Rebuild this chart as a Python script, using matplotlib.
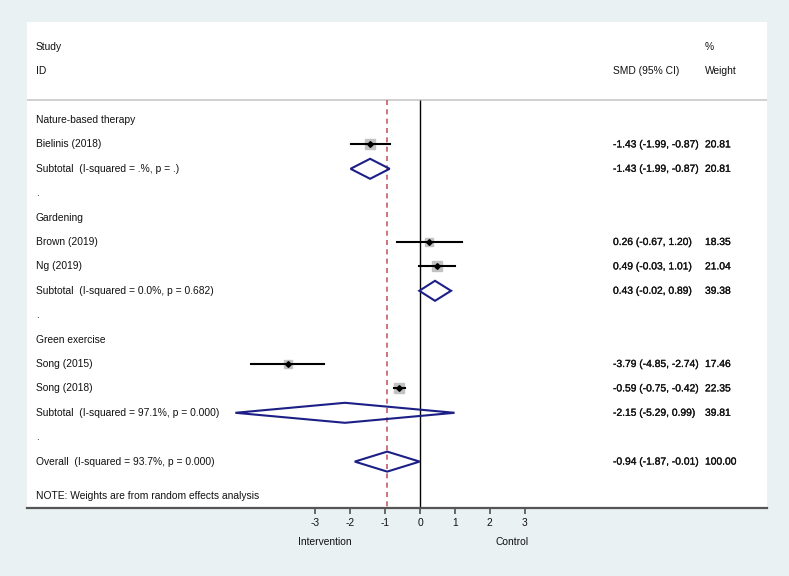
import matplotlib
matplotlib.use("Agg")
import matplotlib.pyplot as plt
from matplotlib.patches import Polygon
import matplotlib.patheffects as pe

plt.rcParams['font.family'] = ['Liberation Sans', 'DejaVu Sans']

# ---- data ----
groups = ["Nature-based therapy", "Gardening", "Green exercise"]
study_names = ["Bielinis (2018)", "Brown (2019)", "Ng (2019)", "Song (2015)", "Song (2018)"]
study_group = [0, 1, 1, 2, 2]
study_smd = [-1.43, 0.26, 0.49, -3.79, -0.59]
study_lo = [-1.99, -0.67, -0.03, -4.85, -0.75]
study_hi = [-0.87, 1.20, 1.01, -2.74, -0.42]
study_w = [20.81, 18.35, 21.04, 17.46, 22.35]

sub_labels = ["Subtotal  (I-squared = .%, p = .)",
              "Subtotal  (I-squared = 0.0%, p = 0.682)",
              "Subtotal  (I-squared = 97.1%, p = 0.000)"]
sub_smd = [-1.43, 0.43, -2.15]
sub_lo = [-1.99, -0.02, -5.29]
sub_hi = [-0.87, 0.89, 0.99]
sub_w = [20.81, 39.38, 39.81]

overall_label = "Overall  (I-squared = 93.7%, p = 0.000)"
overall_smd, overall_lo, overall_hi, overall_w = -0.94, -1.87, -0.01, 100.00

xticks = [-3, -2, -1, 0, 1, 2, 3]
note = "NOTE: Weights are from random effects analysis"

# ---- style ----
BG = "#e9f1f3"
NAVY = "#1c1f86"
RED = "#c25c66"
FS = 7.4
TXT = "#111111"
semi = [pe.withStroke(linewidth=0.2, foreground=TXT)]

fig = plt.figure(figsize=(7.89, 5.76), dpi=100, facecolor=BG)
W, H = 789, 576
left, right, top, bottom = 27, 767, 22, 508
ax = fig.add_axes([left / W, (H - bottom) / H, (right - left) / W, (bottom - top) / H])
ax.set_facecolor("white")

x0, ppu = 420.0, 34.9
ax.set_xlim((left - x0) / ppu, (right - x0) / ppu)
row0, rstep = 120.0, 24.4
ymax = (bottom - row0) / rstep
ymin = (top - row0) / rstep
ax.set_ylim(ymax, ymin)

col_lab = (36 - x0) / ppu
col_smd = (613 - x0) / ppu
col_w = (705 - x0) / ppu
sep = (100 - row0) / rstep

def fmt(e, l, h):
    return f"{e:.2f} ({l:.2f}, {h:.2f})"

def label(x, y, s, bold=False):
    t = ax.text(x, y, s, fontsize=FS, va="center", ha="left", color=TXT)
    if bold:
        t.set_path_effects(semi)
    return t

def diamond(y, e, l, h):
    poly = Polygon([[l, y], [e, y - 0.41], [h, y], [e, y + 0.41]], closed=True,
                   fill=False, edgecolor=NAVY, lw=1.5, zorder=4)
    ax.add_patch(poly)

# headers
label(col_lab, -3, "Study")
label(col_lab, -2, "ID")
label(col_smd, -2, "SMD (95% CI)")
label(col_w, -3, "%")
label(col_w, -2, "Weight")
ax.axhline(sep, color="#c8c8c8", lw=1.2, zorder=1)

# reference lines
ax.vlines(0, sep, ymax, color="black", lw=1.0, zorder=2)
ax.vlines(overall_smd, sep, ymax, color=RED, lw=1.2, linestyles=(0, (3.0, 2.6)), zorder=2)

row = 0
for g, gname in enumerate(groups):
    label(col_lab, row, gname)
    row += 1
    for i in range(len(study_names)):
        if study_group[i] != g:
            continue
        label(col_lab, row, study_names[i])
        ax.plot(study_smd[i], row, marker="s", color="#c2c2c2",
                markersize=(study_w[i] ** 0.5) * 1.45, zorder=3, linestyle="none")
        ax.plot([study_lo[i], study_hi[i]], [row, row], color="black", lw=1.5, zorder=4)
        ax.plot(study_smd[i], row, marker="D", color="black", markersize=2.9, zorder=5)
        label(col_smd, row, fmt(study_smd[i], study_lo[i], study_hi[i]), bold=True)
        label(col_w, row, f"{study_w[i]:.2f}", bold=True)
        row += 1
    label(col_lab, row, sub_labels[g])
    diamond(row, sub_smd[g], sub_lo[g], sub_hi[g])
    label(col_smd, row, fmt(sub_smd[g], sub_lo[g], sub_hi[g]), bold=True)
    label(col_w, row, f"{sub_w[g]:.2f}", bold=True)
    row += 1
    label(col_lab, row, ".")
    row += 1

label(col_lab, row, overall_label)
diamond(row, overall_smd, overall_lo, overall_hi)
label(col_smd, row, fmt(overall_smd, overall_lo, overall_hi), bold=True)
label(col_w, row, f"{overall_w:.2f}", bold=True)
label(col_lab, row + 1.4, note)

# axes styling
for s in ["top", "left", "right"]:
    ax.spines[s].set_visible(False)
ax.spines["bottom"].set_color("#555555")
ax.spines["bottom"].set_linewidth(1.6)
ax.set_yticks([])
ax.set_xticks(xticks)
ax.set_xticklabels([str(t) for t in xticks])
ax.tick_params(axis="x", direction="out", length=4.5, width=1.1, color="#444444",
               labelsize=FS, labelcolor=TXT, pad=3)

tr = ax.get_xaxis_transform()
ax.text((325 - x0) / ppu, -(542 - bottom) / (bottom - top), "Intervention",
        transform=tr, fontsize=FS, ha="center", va="center", color=TXT)
ax.text((512 - x0) / ppu, -(542 - bottom) / (bottom - top), "Control",
        transform=tr, fontsize=FS, ha="center", va="center", color=TXT)

fig.savefig("out.png", dpi=100, facecolor=BG)
